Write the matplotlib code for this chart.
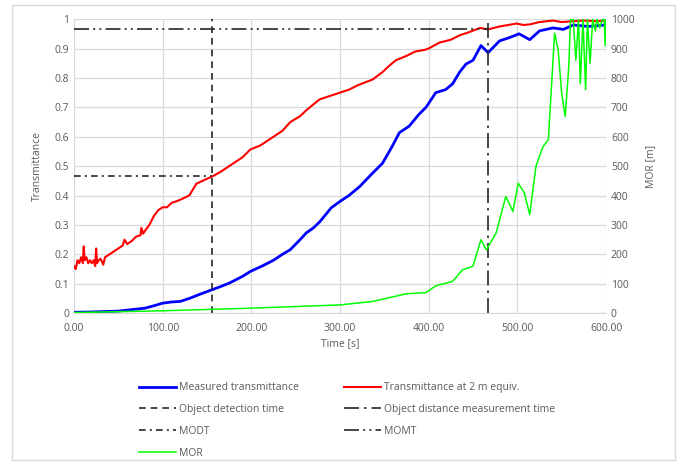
import matplotlib.pyplot as plt
from matplotlib.patches import Rectangle
from matplotlib.ticker import FormatStrFormatter, FuncFormatter

plt.rcParams['font.family'] = ['Open Sans', 'DejaVu Sans']

# Transmittance at 2 m equiv. (red)
red_t = [0, 2, 4, 6, 8, 10, 11, 12, 14, 16, 18, 20, 22, 24, 25, 26, 28, 30, 33, 35,
         40, 45, 50, 55, 57, 60, 65, 70, 75, 76, 78, 80, 85, 90, 95, 100, 105, 110,
         115, 120, 130, 138, 145, 156, 165, 180, 190, 199, 210, 225, 235, 244, 255,
         262, 270, 277, 290, 300, 310, 320, 337, 348, 355, 363, 375, 385, 395, 400,
         412, 425, 435, 445, 458, 467, 480, 490, 499, 507, 514, 525, 540, 550, 563,
         575, 590, 599]
red_v = [0.16, 0.15, 0.18, 0.17, 0.19, 0.17, 0.227, 0.18, 0.19, 0.17, 0.18, 0.17,
         0.18, 0.16, 0.22, 0.17, 0.18, 0.185, 0.165, 0.19, 0.20, 0.21, 0.22, 0.23,
         0.25, 0.235, 0.245, 0.26, 0.265, 0.29, 0.27, 0.28, 0.30, 0.33, 0.35, 0.36,
         0.36, 0.375, 0.38, 0.386, 0.40, 0.44, 0.45, 0.465, 0.48, 0.51, 0.53, 0.557,
         0.57, 0.60, 0.62, 0.65, 0.67, 0.69, 0.71, 0.727, 0.74, 0.75, 0.76, 0.775,
         0.795, 0.82, 0.84, 0.86, 0.875, 0.89, 0.895, 0.90, 0.92, 0.93, 0.945, 0.955,
         0.97, 0.965, 0.975, 0.98, 0.985, 0.98, 0.982, 0.99, 0.995, 0.99, 0.993,
         0.995, 0.993, 0.995]

# Measured transmittance (blue)
blue_t = [0, 20, 50, 80, 90, 100, 110, 120, 130, 140, 156, 165, 175, 190, 199, 212,
          225, 235, 244, 255, 262, 270, 277, 290, 300, 310, 322, 337, 348, 359, 367,
          378, 389, 397, 408, 419, 427, 435, 442, 450, 459, 467, 480, 491, 502, 514,
          525, 540, 552, 563, 580, 599]
blue_v = [0.003, 0.004, 0.007, 0.017, 0.025, 0.034, 0.038, 0.04, 0.05, 0.062, 0.08,
          0.09, 0.102, 0.125, 0.142, 0.16, 0.18, 0.2, 0.216, 0.25, 0.273, 0.29, 0.31,
          0.358, 0.38, 0.40, 0.43, 0.477, 0.51, 0.568, 0.614, 0.636, 0.676, 0.70,
          0.75, 0.76, 0.78, 0.82, 0.847, 0.86, 0.91, 0.886, 0.926, 0.937, 0.95, 0.93,
          0.96, 0.97, 0.965, 0.98, 0.975, 0.98]

# MOR [m] (green)
mor_t = [0, 100, 200, 300, 337, 375, 397, 408, 427, 438, 450, 459, 465, 476, 487,
         495, 501, 508, 514, 521, 529, 535, 542, 546, 550, 554, 558, 560, 563, 566,
         569, 571, 574, 577, 579, 582, 585, 588, 590, 593, 596, 598, 599, 600]
mor_v = [2, 8, 17, 28, 40, 66, 70, 93, 108, 147, 160, 250, 215, 272, 397, 346, 442,
         408, 335, 500, 567, 590, 952, 896, 748, 669, 839, 1000, 1000, 860, 1000, 780,
         1000, 760, 1000, 850, 1000, 960, 1000, 970, 1000, 1000, 910, 1000]

detect_time = 155.6
distance_time = 466.7
modt = 0.465
momt = 0.965

fig = plt.figure(figsize=(6.8, 4.66), dpi=100)
ax = fig.add_axes([0.1088, 0.328, 0.7824, 0.631])
ax2 = ax.twinx()

gray = '#595959'
grid = '#d9d9d9'
line_col = '#262626'

h_blue, = ax.plot(blue_t, blue_v, color='#0000ff', lw=2, label='Measured transmittance')
h_red, = ax.plot(red_t, red_v, color='#ff0000', lw=1.5, label='Transmittance at 2 m equiv.')
h_det = ax.axvline(detect_time, color=line_col, lw=1.2, ls=(0, (4, 3)),
                   label='Object detection time')
h_dist = ax.axvline(distance_time, color=line_col, lw=1.2, ls=(0, (9, 3, 1.5, 3)),
                    label='Object distance measurement time')
h_modt, = ax.plot([0, detect_time], [modt, modt], color=line_col, lw=1.2,
                  ls=(0, (4, 2.5, 1.2, 2.5)), label='MODT')
h_momt, = ax.plot([0, distance_time], [momt, momt], color=line_col, lw=1.2,
                  ls=(0, (9, 2.5, 1.2, 2.5, 1.2, 2.5)), label='MOMT')
h_mor, = ax2.plot(mor_t, mor_v, color='#00ff00', lw=1.1, label='MOR')

ax.set_xlim(0, 600)
ax.set_ylim(0, 1)
ax2.set_ylim(0, 1000)
ax.set_xticks(range(0, 601, 100))
ax.set_yticks([i / 10 for i in range(11)])
ax2.set_yticks(range(0, 1001, 100))
ax.xaxis.set_major_formatter(FormatStrFormatter('%.2f'))
ax.yaxis.set_major_formatter(FuncFormatter(lambda v, p: ('%g' % round(v, 1))))
ax.grid(True, color=grid, lw=0.9)
ax.set_axisbelow(True)

for a in (ax, ax2):
    for s in a.spines.values():
        s.set_visible(False)
    a.tick_params(length=0, colors=gray, labelsize=7.5)
ax.tick_params(axis='x', pad=7)
ax.spines['bottom'].set_visible(True)
ax.spines['bottom'].set_color(grid)

ax.set_xlabel('Time [s]', color=gray, fontsize=7.5, labelpad=3)
ax.set_ylabel('Transmittance', color=gray, fontsize=7.5, labelpad=8)
ax2.set_ylabel('MOR [m]', color=gray, fontsize=7.5, labelpad=8)

handles = [h_blue, h_det, h_modt, h_mor, h_red, h_dist, h_momt]
leg = fig.legend(handles=handles, labels=[h.get_label() for h in handles],
                 ncol=2, loc='upper left', bbox_to_anchor=(0.19, 0.2),
                 frameon=False, fontsize=7.5, handlelength=3.6, handletextpad=0.3,
                 columnspacing=4.3, labelspacing=1.05, labelcolor=gray)

fig.patches.append(Rectangle((0.018, 0.012), 0.975, 0.978, transform=fig.transFigure,
                             fill=False, edgecolor='#d9d9d9', lw=1))

fig.savefig('out.png', dpi=100)
